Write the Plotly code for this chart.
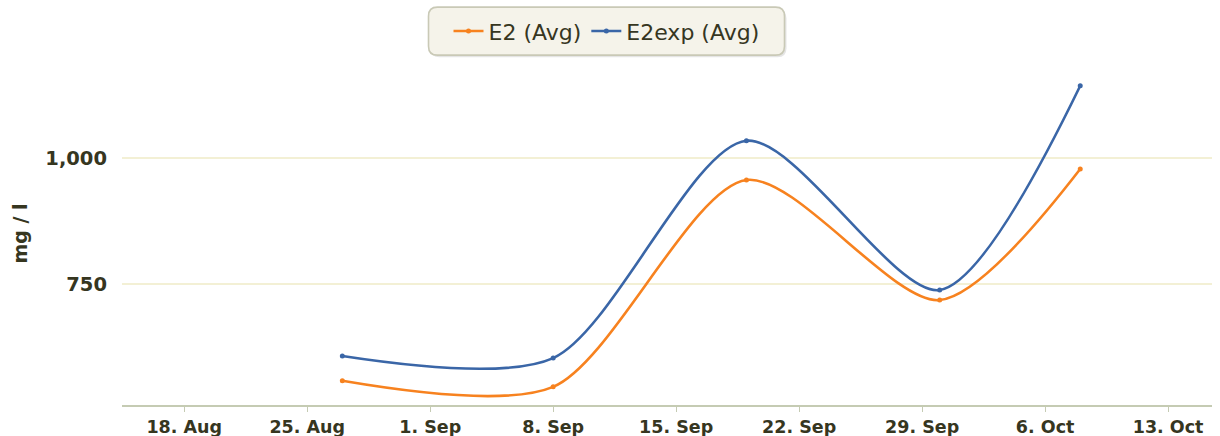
import plotly.graph_objects as go

# Sample dates and averaged concentrations (mg / l)
dates = ["2014-08-27", "2014-09-08", "2014-09-19", "2014-09-30", "2014-10-08"]
e2_avg = [558, 546, 956, 718, 978]
e2exp_avg = [607, 603, 1034, 738, 1143]

series_names = ["E2 (Avg)", "E2exp (Avg)"]
series_colors = ["#f7821f", "#3a66a7"]

TEXT = "#36361f"
FONT = "DejaVu Sans"

fig = go.Figure()
for name, vals, col in zip(series_names, [e2_avg, e2exp_avg], series_colors):
    fig.add_trace(go.Scatter(
        x=dates, y=vals, name=name, mode="lines+markers",
        line=dict(color=col, width=2.6, shape="spline", smoothing=0.8),
        marker=dict(color=col, size=5),
    ))

# rounded legend frame with a soft shadow
def rounded(w, h, r, dx=0, dy=0):
    x0, x1 = -w / 2 + dx, w / 2 + dx
    y0, y1 = -h / 2 + dy, h / 2 + dy
    return (f"M {x0 + r},{y1} L {x1 - r},{y1} Q {x1},{y1} {x1},{y1 - r} "
            f"L {x1},{y0 + r} Q {x1},{y0} {x1 - r},{y0} L {x0 + r},{y0} "
            f"Q {x0},{y0} {x0},{y0 + r} L {x0},{y1 - r} Q {x0},{y1} {x0 + r},{y1} Z")

leg_x, leg_y = 0.4445, 1.090
common = dict(type="path", xref="paper", yref="paper", xsizemode="pixel", ysizemode="pixel",
              xanchor=leg_x, yanchor=leg_y, layer="below")
shapes = [
    dict(path=rounded(356, 48, 9, 2, -2), fillcolor="rgba(0,0,0,0.10)",
         line=dict(width=0), **common),
    dict(path=rounded(356, 48, 9), fillcolor="#f5f3ea",
         line=dict(color="#c9c9b6", width=1.6), **common),
]

fig.update_layout(
    width=1220, height=436,
    margin=dict(l=122, r=8, t=62, b=31, autoexpand=False),
    paper_bgcolor="white", plot_bgcolor="white",
    font=dict(family=FONT, color=TEXT),
    shapes=shapes,
    showlegend=True,
    legend=dict(
        orientation="h", x=leg_x, y=leg_y, xanchor="center", yanchor="middle",
        bgcolor="rgba(0,0,0,0)", borderwidth=0,
        font=dict(family=FONT, size=22, color=TEXT),
        itemwidth=30,
    ),
    xaxis=dict(
        type="date",
        range=["2014-08-14 11:00", "2014-10-15 12:00"],
        tick0="2014-08-18", dtick=7 * 24 * 3600 * 1000,
        tickformat="%-d. %b",
        showgrid=False, zeroline=False,
        showline=True, linecolor="#c5cbb3", linewidth=2,
        ticks="outside", ticklen=5, tickcolor="#c5cbb3", tickwidth=1,
        tickfont=dict(family=FONT, size=17.5, color=TEXT, weight="bold"),
    ),
    yaxis=dict(
        range=[510, 1190],
        tickvals=[750, 1000], tickformat=",d",
        showgrid=True, gridcolor="#f3f0d5", gridwidth=1.5,
        zeroline=False, showline=False,
        ticklabelstandoff=14,
        tickfont=dict(family=FONT, size=19.5, color=TEXT, weight="bold"),
        title=dict(text="mg / l", standoff=12,
                   font=dict(family=FONT, size=19, color=TEXT, weight="bold")),
    ),
)

fig.write_html("out.html")
